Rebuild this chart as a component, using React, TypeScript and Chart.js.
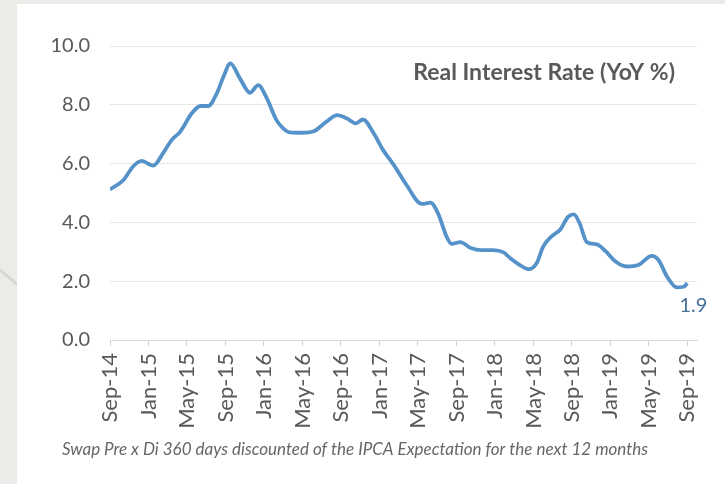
import React, { useEffect, useRef } from "react";
import { Chart, registerables } from "chart.js";

Chart.register(...registerables);

// Tick labels every 4 months, Sep-14 .. Sep-19
const tickMonths = [
  "Sep-14", "Jan-15", "May-15", "Sep-15", "Jan-16", "May-16", "Sep-16", "Jan-17",
  "May-17", "Sep-17", "Jan-18", "May-18", "Sep-18", "Jan-19", "May-19", "Sep-19",
];

// Months elapsed since Sep-14 for each reading
const monthsSinceSep14 = [
  0, 1.4, 2.4, 3.3, 4.5, 5.5, 6.4, 7.3, 8.5, 9.4, 10.2, 11.1, 11.8, 12.5, 13.5,
  14.55, 15.4, 16.3, 17.3, 18.0, 18.7, 20.0, 21.1, 22.5, 23.6, 24.6, 25.5, 26.3,
  27.4, 28.4, 29.5, 30.8, 32.4, 33.3, 34.1, 35.0, 35.5, 36.4, 37.5, 38.6, 39.8,
  40.9, 41.6, 42.6, 43.5, 44.35, 45.0, 45.9, 46.8, 47.6, 48.2, 48.8, 49.55, 50.6,
  51.5, 52.5, 53.7, 54.9, 56.3, 57.0, 57.9, 58.9, 59.6, 60,
];

// Real interest rate (YoY %)
const realRate = [
  5.12, 5.44, 5.9, 6.09, 5.93, 6.35, 6.8, 7.09, 7.71, 7.96, 7.96, 8.39, 8.96, 9.41, 8.9,
  8.41, 8.67, 8.22, 7.48, 7.2, 7.06, 7.05, 7.09, 7.43, 7.65, 7.54, 7.37, 7.5,
  7.03, 6.45, 5.95, 5.28, 4.63, 4.67, 4.3, 3.5, 3.27, 3.33, 3.13, 3.06, 3.06,
  2.98, 2.78, 2.55, 2.41, 2.62, 3.17, 3.53, 3.76, 4.19, 4.27, 3.97, 3.33, 3.25,
  3.02, 2.68, 2.5, 2.55, 2.86, 2.72, 2.15, 1.79, 1.81, 1.93,
];

const chartTitle = "Real Interest Rate (YoY %)";
const footnote = "Swap Pre x Di 360 days discounted of the IPCA Expectation for the next 12 months";

const FONT = "Lato, 'Open Sans', sans-serif";
const TEXT = "#595959";

const textPlugin = {
  id: "texts",
  afterDatasetsDraw(chart: any) {
    const { ctx, chartArea } = chart;
    ctx.save();
    ctx.fillStyle = TEXT;
    ctx.font = `bold 23px ${FONT}`;
    ctx.textAlign = "right";
    ctx.textBaseline = "middle";
    ctx.fillText(chartTitle, chartArea.right - 22, chartArea.top + 27);

    const meta = chart.getDatasetMeta(0);
    const last = meta.data[meta.data.length - 1];
    if (last) {
      ctx.font = `20px ${FONT}`;
      ctx.fillStyle = "#44709b";
      ctx.fillText(realRate[realRate.length - 1].toFixed(1), last.x + 20, last.y + 22);
    }

    ctx.font = `italic 17px ${FONT}`;
    ctx.fillStyle = "#666666";
    ctx.textAlign = "left";
    ctx.fillText(footnote, 62, chartArea.bottom + 110);
    ctx.restore();
  },
};

export default function App() {
  const ref = useRef<HTMLCanvasElement | null>(null);

  useEffect(() => {
    if (!ref.current) return;
    const points = monthsSinceSep14.map((m, i) => ({ x: m, y: realRate[i] }));
    const chart = new Chart(ref.current, {
      type: "line",
      data: {
        datasets: [
          {
            data: points,
            borderColor: "#5592c9",
            borderWidth: 3.8,
            pointRadius: 0,
            tension: 0.4,
            cubicInterpolationMode: "monotone",
            fill: false,
          },
        ],
      },
      options: {
        animation: false,
        responsive: false,
        maintainAspectRatio: false,
        layout: { padding: { left: 0, top: 46, right: 28, bottom: 44 } },
        plugins: {
          legend: { display: false },
          tooltip: { enabled: false },
          title: { display: false },
        },
        scales: {
          x: {
            type: "linear",
            min: 0,
            max: 61,
            afterBuildTicks: (scale: any) => {
              scale.ticks = tickMonths.map((_, i) => ({ value: i * 4 }));
            },
            afterFit: (scale: any) => {
              scale.height = 100;
            },
            ticks: {
              autoSkip: false,
              minRotation: 90,
              maxRotation: 90,
              padding: 7,
              color: TEXT,
              font: { family: FONT, size: 22 },
              callback: (v: any) => tickMonths[Math.round(Number(v) / 4)] ?? "",
            },
            grid: {
              display: true,
              drawOnChartArea: false,
              drawTicks: true,
              tickLength: 6,
              color: "#d0d0d0",
            },
            border: { display: true, color: "#d9d9d9", width: 1 },
          },
          y: {
            min: 0,
            max: 10,
            afterFit: (scale: any) => {
              scale.width = 110;
            },
            ticks: {
              stepSize: 2,
              padding: 20,
              color: TEXT,
              font: { family: FONT, size: 20 },
              callback: (v: any) => Number(v).toFixed(1),
            },
            grid: { color: "#e6e6e6", drawTicks: false },
            border: { display: false },
          },
        },
      },
      plugins: [textPlugin],
    });
    return () => chart.destroy();
  }, []);

  return (
    <div
      style={{
        position: "fixed",
        left: 0,
        top: 0,
        width: 725,
        height: 484,
        background: "#ecebe7",
        overflow: "hidden",
      }}
    >
      <div
        style={{
          position: "absolute",
          left: -3,
          top: 276,
          width: 24,
          height: 3,
          background: "#d7d7d3",
          transform: "rotate(40deg)",
        }}
      />
      <div
        style={{
          position: "absolute",
          left: 17,
          top: 4,
          right: 0,
          bottom: 0,
          background: "#ffffff",
        }}
      />
      <canvas
        ref={ref}
        width={725}
        height={484}
        style={{ position: "absolute", left: 0, top: 0, width: 725, height: 484 }}
      />
    </div>
  );
}
